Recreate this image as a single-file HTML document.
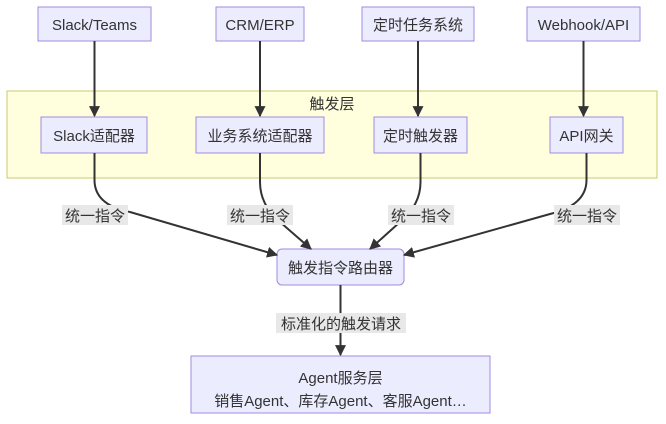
<!DOCTYPE html>
<html><head><meta charset="utf-8"><style>
body{margin:0;background:#fff;width:666px;height:419px;overflow:hidden}
svg text{font-family:"Liberation Sans","Noto Sans CJK SC",sans-serif;font-size:15px;fill:#333}
</style></head><body>
<svg width="666" height="419" viewBox="0 0 666 419" xmlns="http://www.w3.org/2000/svg">
<defs><marker id="a" viewBox="0 0 10 10" refX="9" refY="5" markerWidth="11" markerHeight="11" orient="auto-start-reverse" markerUnits="userSpaceOnUse"><path d="M0,0L10,5L0,10z" fill="#333"/></marker></defs>
<rect x="7" y="91" width="650" height="87" fill="#ffffde" stroke="#c9c96a" stroke-width="1"/>
<text x="332" y="109" text-anchor="middle">触发层</text>
<g fill="#ececff" stroke="#a08be0" stroke-width="1">
<rect x="38" y="7" width="113" height="34"/>
<rect x="216" y="7" width="88" height="34"/>
<rect x="362" y="7" width="112" height="34"/>
<rect x="527" y="7" width="113" height="34"/>
<rect x="41" y="117" width="106" height="36"/>
<rect x="196" y="117" width="128" height="36"/>
<rect x="374" y="117" width="93" height="36"/>
<rect x="550" y="117" width="73" height="36"/>
<rect x="277" y="249" width="127" height="36" rx="5"/>
<rect x="191" y="356" width="299" height="57"/>
</g>
<g text-anchor="middle">
<text x="94.5" y="30">Slack/Teams</text>
<text x="260" y="30">CRM/ERP</text>
<text x="418" y="30">定时任务系统</text>
<text x="583.5" y="30">Webhook/API</text>
<text x="94" y="141">Slack适配器</text>
<text x="260" y="141">业务系统适配器</text>
<text x="420.5" y="141">定时触发器</text>
<text x="586.5" y="141">API网关</text>
<text x="340.5" y="273">触发指令路由器</text>
<text x="340.5" y="383">Agent服务层</text>
<text x="340.5" y="406">销售Agent、库存Agent、客服Agent…</text>
</g>
<g stroke="#333" stroke-width="2" fill="none" marker-end="url(#a)">
<path d="M94.5,41V116"/>
<path d="M260,41V116"/>
<path d="M418,41V116"/>
<path d="M583.5,41V116"/>
<path d="M94.5,153V180Q94.5,205 130,212L277,255"/>
<path d="M260,153V182Q260,205 280,222L311,249"/>
<path d="M420.5,153V182Q420.5,205 400,222L370,249"/>
<path d="M586.5,153V180Q586.5,205 550,214L404,255"/>
<path d="M340.5,285V355"/>
</g>
<g fill="#e8e8e8">
<rect x="62" y="205" width="66" height="20"/>
<rect x="227" y="205" width="66" height="20"/>
<rect x="388" y="205" width="66" height="20"/>
<rect x="554" y="205" width="66" height="20"/>
<rect x="276" y="313" width="130" height="20"/>
</g>
<g text-anchor="middle">
<text x="95" y="221">统一指令</text>
<text x="260" y="221">统一指令</text>
<text x="421" y="221">统一指令</text>
<text x="587" y="221">统一指令</text>
<text x="341" y="329">标准化的触发请求</text>
</g>
</svg>
</body></html>
